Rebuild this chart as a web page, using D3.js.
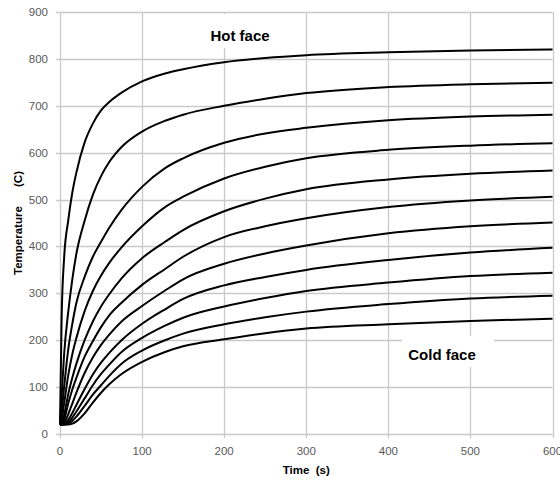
<!DOCTYPE html>
<html>
<head>
<meta charset="utf-8">
<script src="https://cdn.jsdelivr.net/npm/d3@7"></script>
<style>
  html, body { margin: 0; padding: 0; background: #fff; }
  svg { display: block; }
  text { font-family: "Liberation Sans", Arial, sans-serif; }
</style>
</head>
<body>
<svg id="chart" width="560" height="482"></svg>
<script>
// ---- data ----
const times = [0, 2, 5, 10, 15, 20, 30, 40, 50, 60, 75, 100, 128, 150, 200, 250, 300, 400, 500, 600];

const layer1  = [20, 250, 375, 455, 515, 558, 622, 662, 690, 708, 728, 752, 769, 778, 793, 802, 808, 814, 818, 820];
const layer2  = [20, 80, 170, 260, 330, 385, 455, 510, 550, 580, 612, 645, 668, 681, 700, 715, 727, 740, 746, 749];
const layer3  = [20, 45, 100, 180, 235, 280, 335, 378, 410, 440, 478, 527, 567, 588, 621, 641, 653, 669, 677, 681];
const layer4  = [20, 30, 65, 125, 170, 205, 262, 305, 338, 365, 398, 443, 484, 506, 545, 570, 588, 606, 615, 620];
const layer5  = [20, 21, 40, 85, 120, 150, 200, 240, 272, 298, 332, 375, 410, 435, 475, 502, 522, 543, 555, 562];
const layer6  = [20, 20, 30, 65, 95, 120, 165, 198, 228, 253, 280, 318, 352, 378, 420, 443, 460, 484, 498, 506];
const layer7  = [20, 20, 23, 42, 65, 88, 130, 163, 190, 212, 240, 273, 306, 330, 363, 385, 402, 428, 443, 451];
const layer8  = [20, 20, 21, 30, 45, 62, 96, 127, 152, 173, 200, 235, 266, 288, 317, 335, 350, 371, 387, 397];
const layer9  = [20, 20, 20, 25, 35, 48, 76, 104, 128, 148, 175, 205, 231, 248, 272, 290, 305, 323, 337, 344];
const layer10 = [20, 20, 20, 22, 28, 37, 60, 84, 104, 124, 150, 178, 200, 214, 234, 249, 261, 277, 289, 295];
const layer11 = [20, 20, 20, 20, 22, 27, 44, 67, 88, 106, 128, 154, 175, 187, 202, 215, 225, 234, 241, 246];

const series = [layer1, layer2, layer3, layer4, layer5, layer6, layer7, layer8, layer9, layer10, layer11];

const xTicks = [0, 100, 200, 300, 400, 500, 600];
const yTicks = [0, 100, 200, 300, 400, 500, 600, 700, 800, 900];

const xTitle = "Time  (s)";
const yTitle = "Temperature      (C)";
const hotLabel = "Hot face";
const coldLabel = "Cold face";

// ---- layout ----
const W = 560, H = 482;
const margin = { left: 60, right: 7.5, top: 12, bottom: 48 };
const svg = d3.select("#chart");

const x = d3.scaleLinear().domain([0, 600]).range([margin.left, W - margin.right]);
const y = d3.scaleLinear().domain([0, 900]).range([H - margin.bottom, margin.top]);

const gridColor = "#c9c9c9";
const tickColor = "#595959";

// horizontal gridlines (with small ticks to the left)
svg.append("g").selectAll("line").data(yTicks).join("line")
  .attr("x1", x(0) - 4).attr("x2", x(600))
  .attr("y1", d => Math.round(y(d)) + 0.5).attr("y2", d => Math.round(y(d)) + 0.5)
  .attr("stroke", gridColor).attr("stroke-width", 1.3);

// vertical gridlines (with small ticks below)
svg.append("g").selectAll("line").data(xTicks).join("line")
  .attr("x1", d => Math.round(x(d)) + 0.5).attr("x2", d => Math.round(x(d)) + 0.5)
  .attr("y1", y(900)).attr("y2", y(0) + 4)
  .attr("stroke", gridColor).attr("stroke-width", 1.3);

// tick labels
svg.append("g").selectAll("text").data(yTicks).join("text")
  .attr("x", x(0) - 12).attr("y", d => y(d) + 4)
  .attr("text-anchor", "end").attr("font-size", 11.5).attr("fill", tickColor)
  .text(d => d);

svg.append("g").selectAll("text").data(xTicks).join("text")
  .attr("x", d => x(d)).attr("y", y(0) + 21)
  .attr("text-anchor", "middle").attr("font-size", 11.5).attr("fill", tickColor)
  .text(d => d);

// label background boxes (hide gridlines)
svg.append("rect").attr("x", 195).attr("y", 14).attr("width", 90).attr("height", 34).attr("fill", "#fff");
svg.append("rect").attr("x", 402).attr("y", 336).attr("width", 92).attr("height", 31).attr("fill", "#fff");

// curves
const line = d3.line()
  .x((d, i) => x(times[i]))
  .y(d => y(d))
  .curve(d3.curveMonotoneX);

svg.append("g").selectAll("path").data(series).join("path")
  .attr("d", d => line(d))
  .attr("fill", "none")
  .attr("stroke", "#000")
  .attr("stroke-width", 2)
  .attr("stroke-linejoin", "round");

// labels
svg.append("text").attr("x", 240).attr("y", 41)
  .attr("text-anchor", "middle").attr("font-size", 15).attr("font-weight", "bold").attr("fill", "#000")
  .text(hotLabel);
svg.append("text").attr("x", 442).attr("y", 360)
  .attr("text-anchor", "middle").attr("font-size", 15).attr("font-weight", "bold").attr("fill", "#000")
  .text(coldLabel);

// axis titles
svg.append("text").attr("x", (x(0) + x(600)) / 2).attr("y", 474)
  .attr("text-anchor", "middle").attr("font-size", 11.5).attr("font-weight", "bold").attr("fill", "#000")
  .style("white-space", "pre")
  .text(xTitle);
svg.append("text")
  .attr("transform", `translate(22, ${(y(0) + y(900)) / 2}) rotate(-90)`)
  .attr("text-anchor", "middle").attr("font-size", 11.5).attr("font-weight", "bold").attr("fill", "#000")
  .style("white-space", "pre")
  .text(yTitle);
</script>
</body>
</html>
